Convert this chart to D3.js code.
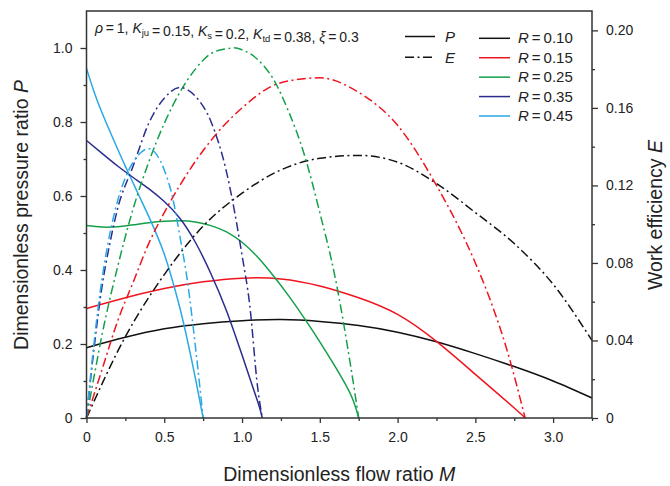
<!DOCTYPE html>
<html>
<head>
<meta charset="utf-8">
<script src="https://cdn.jsdelivr.net/npm/d3@7/dist/d3.min.js"></script>
<style>
  html, body { margin: 0; padding: 0; background: #fff; }
  svg { display: block; font-family: "Liberation Sans", Arial, sans-serif; }
</style>
</head>
<body>
<svg id="chart" width="670" height="486"></svg>
<script>
// ---------- DATA ----------
const seriesLabels = ["0.10", "0.15", "0.25", "0.35", "0.45"];

// Pressure ratio P (solid, left axis): [M, P]
const P_R010 = [[0,0.19],[0.25,0.218],[0.5,0.241],[0.75,0.255],[1.0,0.263],[1.25,0.266],[1.5,0.261],[1.75,0.25],[2.0,0.232],[2.25,0.206],[2.5,0.174],[2.75,0.139],[3.0,0.1],[3.25,0.054]];
const P_R015 = [[0,0.296],[0.25,0.325],[0.5,0.35],[0.75,0.368],[1.0,0.378],[1.25,0.376],[1.5,0.357],[1.75,0.325],[2.0,0.28],[2.25,0.207],[2.5,0.118],[2.75,0.027],[2.82,0]];
const P_R025 = [[0,0.52],[0.1,0.516],[0.2,0.517],[0.3,0.522],[0.4,0.528],[0.5,0.532],[0.6,0.533],[0.7,0.53],[0.8,0.52],[0.9,0.503],[1.0,0.475],[1.1,0.435],[1.2,0.385],[1.3,0.33],[1.4,0.27],[1.5,0.206],[1.6,0.138],[1.7,0.062],[1.75,0]];
const P_R035 = [[0,0.75],[0.1,0.715],[0.2,0.681],[0.3,0.65],[0.4,0.62],[0.5,0.585],[0.6,0.54],[0.7,0.475],[0.8,0.39],[0.9,0.29],[1.0,0.17],[1.1,0.045],[1.13,0]];
const P_R045 = [[0,0.945],[0.05,0.88],[0.1,0.825],[0.15,0.775],[0.2,0.727],[0.25,0.68],[0.3,0.635],[0.35,0.59],[0.4,0.545],[0.45,0.497],[0.5,0.443],[0.55,0.375],[0.6,0.298],[0.65,0.208],[0.7,0.108],[0.75,0]];

// Work efficiency E (dash-dot, right axis): [M, E]
const E_R010 = [[0,0],[0.25,0.042],[0.5,0.074],[0.75,0.099],[1.0,0.116],[1.25,0.128],[1.5,0.134],[1.75,0.1355],[2.0,0.132],[2.25,0.121],[2.5,0.106],[2.75,0.09],[3.0,0.069],[3.25,0.04]];
const E_R015 = [[0,0],[0.1,0.025],[0.2,0.05],[0.3,0.07],[0.4,0.09],[0.5,0.106],[0.6,0.12],[0.75,0.138],[1.0,0.16],[1.25,0.173],[1.5,0.1755],[1.75,0.168],[2.0,0.151],[2.25,0.12],[2.5,0.08],[2.6,0.06],[2.7,0.036],[2.82,0]];
const E_R025 = [[0,0],[0.05,0.022],[0.1,0.043],[0.2,0.078],[0.3,0.108],[0.4,0.132],[0.5,0.152],[0.6,0.168],[0.7,0.18],[0.8,0.188],[0.9,0.1905],[0.95,0.191],[1.0,0.19],[1.1,0.185],[1.2,0.175],[1.3,0.158],[1.4,0.136],[1.5,0.106],[1.6,0.072],[1.7,0.026],[1.75,0]];
const E_R035 = [[0,0],[0.05,0.037],[0.1,0.068],[0.15,0.09],[0.2,0.108],[0.3,0.13],[0.4,0.152],[0.5,0.165],[0.6,0.1705],[0.7,0.166],[0.8,0.153],[0.9,0.127],[1.0,0.084],[1.05,0.058],[1.1,0.016],[1.13,0]];
const E_R045 = [[0,0],[0.05,0.04],[0.1,0.072],[0.15,0.095],[0.2,0.112],[0.25,0.124],[0.3,0.132],[0.35,0.137],[0.4,0.139],[0.45,0.136],[0.5,0.128],[0.55,0.115],[0.6,0.094],[0.65,0.07],[0.7,0.037],[0.75,0]];

const xTicks = [0, 0.5, 1.0, 1.5, 2.0, 2.5, 3.0];
const xMinor = [0.25, 0.75, 1.25, 1.75, 2.25, 2.75, 3.25];
const pTicks = [0, 0.2, 0.4, 0.6, 0.8, 1.0];
const pMinor = [0.1, 0.3, 0.5, 0.7, 0.9];
const eTicks = [0, 0.04, 0.08, 0.12, 0.16, 0.20];
const eMinor = [0.02, 0.06, 0.10, 0.14, 0.18];

// ---------- STYLE ----------
const colors = ["#111111", "#f0141e", "#14a04a", "#2b2d8e", "#2aa9e6"];
const pSeries = [P_R010, P_R015, P_R025, P_R035, P_R045];
const eSeries = [E_R010, E_R015, E_R025, E_R035, E_R045];
const dashDot = "9,3.5,2,3.5";

const L = 86.5, R = 592, T = 11, B = 418;
const svg = d3.select("#chart");

const x = d3.scaleLinear().domain([0, 3.25]).range([L, R]);
const yP = d3.scaleLinear().domain([0, 1.1]).range([B, T]);
const yE = d3.scaleLinear().domain([0, 0.21]).range([B, T]);

const axisColor = "#333";
const tickFont = "14px";
const EQ = "\u2009=\u2009";

function fmt(d, p) { return d === 0 ? "0" : d.toFixed(p); }

// Curves
const lineP = d3.line().x(d => x(d[0])).y(d => yP(d[1])).curve(d3.curveNatural);
const lineE = d3.line().x(d => x(d[0])).y(d => yE(d[1])).curve(d3.curveMonotoneX);

const gCurves = svg.append("g");
pSeries.forEach((s, i) => {
  gCurves.append("path").attr("d", lineP(s)).attr("fill", "none")
    .attr("stroke", colors[i]).attr("stroke-width", 1.5);
});
eSeries.forEach((s, i) => {
  gCurves.append("path").attr("d", lineE(s)).attr("fill", "none")
    .attr("stroke", colors[i]).attr("stroke-width", 1.5)
    .attr("stroke-dasharray", dashDot);
});

// Axes
const gx = svg.append("g").attr("transform", `translate(0,${B})`)
  .call(d3.axisBottom(x).tickValues(xTicks).tickFormat(d => fmt(d, 1)).tickSizeOuter(0).tickSize(5).tickPadding(9));
const gxm = svg.append("g").attr("transform", `translate(0,${B})`)
  .call(d3.axisBottom(x).tickValues(xMinor).tickFormat("").tickSizeOuter(0).tickSize(3));
const gy = svg.append("g").attr("transform", `translate(${L},0)`)
  .call(d3.axisLeft(yP).tickValues(pTicks).tickFormat(d => fmt(d, 1)).tickSizeOuter(0).tickSize(6).tickPadding(8));
const gym = svg.append("g").attr("transform", `translate(${L},0)`)
  .call(d3.axisLeft(yP).tickValues(pMinor).tickFormat("").tickSizeOuter(0).tickSize(3));
const gr = svg.append("g").attr("transform", `translate(${R},0)`)
  .call(d3.axisRight(yE).tickValues(eTicks).tickFormat(d => fmt(d, 2)).tickSizeOuter(0).tickSize(6).tickPadding(8));
const grm = svg.append("g").attr("transform", `translate(${R},0)`)
  .call(d3.axisRight(yE).tickValues(eMinor).tickFormat("").tickSizeOuter(0).tickSize(3));

[gx, gxm, gy, gym, gr, grm].forEach(g => {
  g.selectAll(".domain").remove();
  g.selectAll("line").attr("stroke", axisColor).attr("stroke-width", 1.3);
  g.selectAll("text").attr("fill", "#222").style("font-size", tickFont)
    .style("font-family", "'Liberation Sans', Arial, sans-serif");
});

// Frame
svg.append("rect").attr("x", L).attr("y", T).attr("width", R - L).attr("height", B - T)
  .attr("fill", "none").attr("stroke", axisColor).attr("stroke-width", 1.5);

// Axis titles
svg.append("text").attr("x", (L + R) / 2).attr("y", 481).attr("text-anchor", "middle")
  .style("font-size", "19.5px").attr("fill", "#222")
  .call(t => { t.append("tspan").text("Dimensionless flow ratio "); t.append("tspan").attr("font-style", "italic").text("M"); });
svg.append("text").attr("transform", `translate(28,215) rotate(-90)`).attr("text-anchor", "middle")
  .style("font-size", "19.5px").attr("fill", "#222")
  .call(t => { t.append("tspan").text("Dimensionless pressure ratio "); t.append("tspan").attr("font-style", "italic").text("P"); });
svg.append("text").attr("transform", `translate(662,215) rotate(-90)`).attr("text-anchor", "middle")
  .style("font-size", "19.5px").attr("fill", "#222")
  .call(t => { t.append("tspan").text("Work efficiency "); t.append("tspan").attr("font-style", "italic").text("E"); });

// Parameter annotation
const ann = svg.append("text").attr("x", 95).attr("y", 33).style("font-size", "14px").attr("fill", "#222");
function it(s) { ann.append("tspan").attr("font-style", "italic").text(s); }
function nm(s) { ann.append("tspan").text(s); }
function sub(s) { ann.append("tspan").attr("dy", 3).style("font-size", "9.5px").text(s); ann.append("tspan").attr("dy", -3).text(""); }
it("ρ"); nm(EQ + "1, "); it("K"); sub("ju"); nm(EQ + "0.15, "); it("K"); sub("s"); nm(EQ + "0.2, ");
it("K"); sub("td"); nm(EQ + "0.38, "); it("ξ"); nm(EQ + "0.3");

// Legend: line types
const gl = svg.append("g");
gl.append("line").attr("x1", 405).attr("x2", 435).attr("y1", 36.5).attr("y2", 36.5)
  .attr("stroke", "#111").attr("stroke-width", 1.5);
gl.append("text").attr("x", 445).attr("y", 41.5).attr("font-style", "italic").style("font-size", "15px").attr("fill", "#222").text("P");
gl.append("line").attr("x1", 405).attr("x2", 435).attr("y1", 57.3).attr("y2", 57.3)
  .attr("stroke", "#111").attr("stroke-width", 1.5).attr("stroke-dasharray", dashDot);
gl.append("text").attr("x", 445).attr("y", 62.5).attr("font-style", "italic").style("font-size", "15px").attr("fill", "#222").text("E");

// Legend: colors
const legY = d3.scaleLinear().domain([0, 4]).range([38.3, 116]);
seriesLabels.forEach((lab, i) => {
  gl.append("line").attr("x1", 479).attr("x2", 510).attr("y1", legY(i)).attr("y2", legY(i))
    .attr("stroke", colors[i]).attr("stroke-width", 1.5);
  const t = gl.append("text").attr("x", 518).attr("y", legY(i) + 5).style("font-size", "15px").attr("fill", "#222");
  t.append("tspan").attr("font-style", "italic").text("R");
  t.append("tspan").text(EQ + lab);
});
</script>
</body>
</html>
